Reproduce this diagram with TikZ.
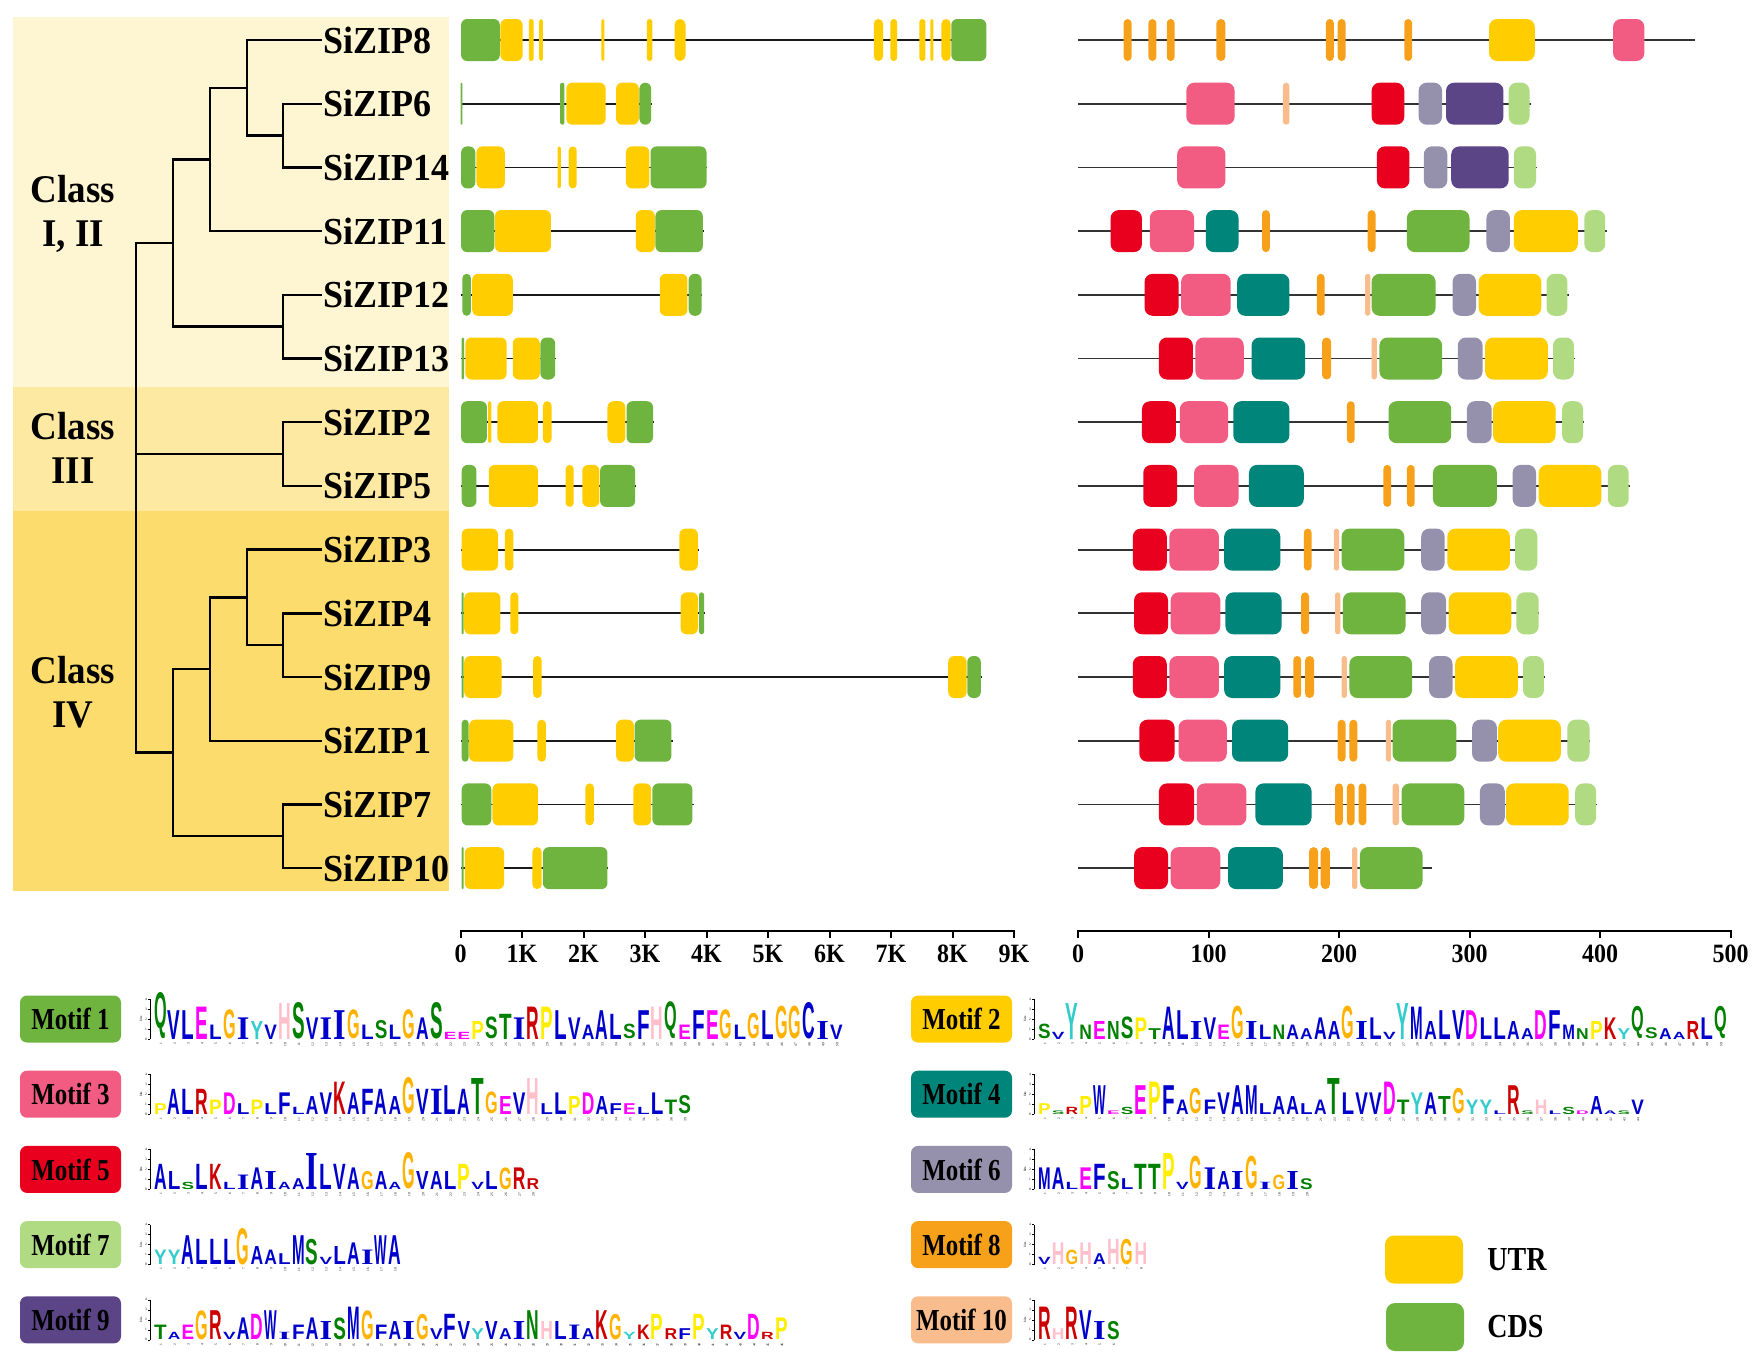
\documentclass[tikz,border=0pt]{standalone}
\usepackage{fontspec}
\setmainfont{Liberation Serif}
\newfontfamily\logofont{Liberation Sans}
\usepackage{graphicx}
\usepackage{xcolor}
\usetikzlibrary{positioning}

% class bands
\definecolor{bandA}{HTML}{FEF6D2}
\definecolor{bandB}{HTML}{FDE9A2}
\definecolor{bandC}{HTML}{FDDC6E}
% gene parts
\definecolor{utr}{HTML}{FFCD00}
\definecolor{cds}{HTML}{6EB43F}
\colorlet{gu}{utr}
\colorlet{gc}{cds}
% motifs
\definecolor{motif1}{HTML}{6EB43F}
\definecolor{motif2}{HTML}{FFCD00}
\definecolor{motif3}{HTML}{F25B82}
\definecolor{motif4}{HTML}{00857A}
\definecolor{motif5}{HTML}{E8001E}
\definecolor{motif6}{HTML}{9591AD}
\definecolor{motif7}{HTML}{B1DB83}
\definecolor{motif8}{HTML}{F7A11A}
\definecolor{motif9}{HTML}{5C4587}
\definecolor{motif10}{HTML}{F9BC8C}
% logo letters
\definecolor{lgblue}{HTML}{0000CC}
\definecolor{lggreen}{HTML}{008000}
\definecolor{lgmag}{HTML}{FF00FF}
\definecolor{lgred}{HTML}{CC0000}
\definecolor{lgpink}{HTML}{FFBFCB}
\definecolor{lgorange}{HTML}{FFB300}
\definecolor{lgyellow}{HTML}{FFEE00}
\definecolor{lgcyan}{HTML}{33CCCC}
\colorlet{aaA}{lgblue}\colorlet{aaC}{lgblue}\colorlet{aaF}{lgblue}
\colorlet{aaI}{lgblue}\colorlet{aaL}{lgblue}\colorlet{aaV}{lgblue}
\colorlet{aaW}{lgblue}\colorlet{aaM}{lgblue}
\colorlet{aaN}{lggreen}\colorlet{aaQ}{lggreen}\colorlet{aaS}{lggreen}\colorlet{aaT}{lggreen}
\colorlet{aaD}{lgmag}\colorlet{aaE}{lgmag}
\colorlet{aaK}{lgred}\colorlet{aaR}{lgred}
\colorlet{aaH}{lgpink}\colorlet{aaG}{lgorange}\colorlet{aaP}{lgyellow}\colorlet{aaY}{lgcyan}
% serifed I as in the logos
\newcommand\glyphI{{\rmfamily\bfseries I}}
\newcommand\aaglyph[1]{\ifcsname glyph#1\endcsname\csname glyph#1\endcsname\else#1\fi}
% tall bold label text
\newcommand\tall[2]{\scalebox{1}[#1]{#2}}

% exon-intron row: y, length (kb), start/end/kind
\newcommand\gene[3]{%
  \draw[intron] (0,#1) -- (#2,#1);
  \foreach \xa/\xb/\kind in {#3}{%
    \pgfmathsetmacro\rr{min(6,(\xb-\xa)*30.75)}%
    \fill[g\kind, rounded corners=\rr pt] (\xa,#1-21) rectangle (\xb,#1+21);}%
}
% motif row: y, length (aa), start/end/motif
\newcommand\prot[3]{%
  \draw[pline] (0,#1) -- (#2,#1);
  \foreach \xa/\xb/\mot in {#3}{%
    \pgfmathsetmacro\rr{min(8,(\xb-\xa)*0.6525)}%
    \fill[motif\mot, rounded corners=\rr pt] (\xa,#1-21) rectangle (\xb,#1+21);}%
}
% sequence logo: name, left x, baseline y, letter/height
\newcommand\seqlogo[4]{%
  \draw[logoaxis] (#2-4,#3) -- (#2-4,#3-40);
  \foreach \bt in {0,...,4}{%
    \draw[logoaxis] (#2-4,#3-10*\bt) -- (#2-6,#3-10*\bt);
    \node[logotick] (#1-b\bt) at (#2-8,#3-10*\bt) {\bt};}%
  \node[logotick, rotate=90] (#1-bits) at (#2-13,#3-20) {bits};
  \foreach \aaL/\aaH [count=\aaK] in {#4}{%
    \pgfmathsetmacro\lh{3.6*\aaH}%
    \node[letter] (#1-\aaK) at ({#2+13.8*(\aaK-1)},#3)
      {\resizebox{12.6pt}{\lh pt}{\textcolor{aa\aaL}{\aaglyph{\aaL}}}};
    \node[posnum] (#1-n\aaK) at ({#2+13.8*(\aaK-0.5)},#3+3) {\aaK};}%
}

\begin{document}
\begin{tikzpicture}[x=1pt, y=-1pt,
  leaf/.style={anchor=west, inner sep=1pt, font=\fontsize{36}{38}\selectfont\bfseries},
  classlbl/.style={align=center, font=\fontsize{37}{44}\selectfont\bfseries},
  branch/.style={line width=2.4pt, black},
  intron/.style={line width=1.8pt, black!90},
  pline/.style={line width=1.8pt, black!80},
  axis/.style={line width=2pt, black},
  ticklbl/.style={font=\fontsize{24}{26}\selectfont\bfseries, inner sep=0pt},
  motiflbl/.style={rounded corners=7pt, minimum width=101pt, minimum height=47pt,
    inner sep=0pt, font=\fontsize{25}{27}\selectfont\bfseries},
  keybox/.style={rounded corners=9pt, minimum width=78pt, minimum height=48pt, inner sep=0pt},
  keylbl/.style={font=\fontsize{28}{30}\selectfont\bfseries, inner sep=2pt},
  letter/.style={anchor=south west, inner sep=0pt, outer sep=0pt, font=\logofont\bfseries},
  posnum/.style={rotate=90, anchor=east, inner sep=0.3pt, font=\fontsize{3.5}{4}\selectfont},
  logotick/.style={inner sep=0.3pt, font=\fontsize{3.5}{4}\selectfont},
  logoaxis/.style={line width=0.3pt, black}]
\useasboundingbox (0,0) rectangle (1761,1361);
\fill[white] (0,0) rectangle (1761,1361);

% class bands
\fill[bandA] (13,17) rectangle (449,387);
\fill[bandB] (13,387) rectangle (449,511);
\fill[bandC] (13,511) rectangle (449,891);
\node[classlbl] (clsI) at (73,214) {\tall{1.06}{Class}\\\tall{1.06}{I, II}};
\node[classlbl] (clsIII) at (73,448) {\tall{1.06}{Class}\\\tall{1.06}{III}};
\node[classlbl] (clsIV) at (73,692) {\tall{1.06}{Class}\\\tall{1.06}{IV}};

% leaves
\foreach \g [count=\rw from 0] in {SiZIP8,SiZIP6,SiZIP14,SiZIP11,SiZIP12,SiZIP13,SiZIP2,
  SiZIP5,SiZIP3,SiZIP4,SiZIP9,SiZIP1,SiZIP7,SiZIP10}
  \node[leaf] (\g) at (322,{40+63.7*\rw}) {\tall{1.06}{\g}};

% inner nodes
\coordinate (c614) at (283,135.55);
\coordinate (c8) at (247,87.8);
\coordinate (c11) at (210,159.45);
\coordinate (c1213) at (283,326.65);
\coordinate (cI) at (173,243.05);
\coordinate (c25) at (283,454.05);
\coordinate (c49) at (283,645.15);
\coordinate (c3) at (247,597.4);
\coordinate (c1) at (210,669.05);
\coordinate (c710) at (283,836.25);
\coordinate (cIV) at (173,752.65);
\coordinate (root) at (136,454.05);

% branches
\draw[branch] (c614) |- (SiZIP6.west);
\draw[branch] (c614) |- (SiZIP14.west);
\draw[branch] (c8) |- (SiZIP8.west);
\draw[branch] (c8) |- (c614);
\draw[branch] (c11) |- (c8);
\draw[branch] (c11) |- (SiZIP11.west);
\draw[branch] (c1213) |- (SiZIP12.west);
\draw[branch] (c1213) |- (SiZIP13.west);
\draw[branch] (cI) |- (c11);
\draw[branch] (cI) |- (c1213);
\draw[branch] (c25) |- (SiZIP2.west);
\draw[branch] (c25) |- (SiZIP5.west);
\draw[branch] (c49) |- (SiZIP4.west);
\draw[branch] (c49) |- (SiZIP9.west);
\draw[branch] (c3) |- (SiZIP3.west);
\draw[branch] (c3) |- (c49);
\draw[branch] (c1) |- (c3);
\draw[branch] (c1) |- (SiZIP1.west);
\draw[branch] (c710) |- (SiZIP7.west);
\draw[branch] (c710) |- (SiZIP10.west);
\draw[branch] (cIV) |- (c1);
\draw[branch] (cIV) |- (c710);
\draw[branch] (root) |- (cI);
\draw[branch] (root) |- (cIV);
\draw[branch] (root) -- (c25);

% gene structures (kb)
\begin{scope}[shift={(460.5,0)}, x=61.5pt]
\gene{40}{8.55}{0.01/0.64/c,0.65/1.01/u,1.11/1.19/u,1.28/1.34/u,2.29/2.34/u,3.03/3.12/u,
  3.48/3.66/u,6.72/6.87/u,6.99/7.10/u,7.46/7.56/u,7.64/7.69/u,7.82/7.97/u,7.98/8.55/c}
\gene{103.7}{3.11}{0.00/0.03/c,1.62/1.69/c,1.72/2.36/u,2.53/2.90/u,2.91/3.10/c}
\gene{167.4}{4.00}{0.01/0.24/c,0.26/0.72/u,1.58/1.63/u,1.76/1.89/u,2.69/3.07/u,3.09/4.00/c}
\gene{231.1}{3.96}{0.01/0.55/c,0.56/1.47/u,2.85/3.16/u,3.17/3.94/c}
\gene{294.8}{3.93}{0.03/0.17/c,0.19/0.85/u,3.24/3.69/u,3.71/3.92/c}
\gene{358.5}{1.55}{0.02/0.06/c,0.08/0.75/u,0.85/1.29/u,1.30/1.54/c}
\gene{422.2}{3.15}{0.01/0.43/c,0.45/0.50/u,0.60/1.26/u,1.34/1.48/u,2.39/2.68/u,2.70/3.13/c}
\gene{485.9}{2.86}{0.02/0.26/c,0.46/1.26/u,1.71/1.84/u,1.98/2.26/u,2.27/2.84/c}
\gene{549.6}{3.88}{0.02/0.61/u,0.72/0.86/u,3.56/3.86/u}
\gene{613.3}{3.98}{0.02/0.05/c,0.06/0.65/u,0.81/0.94/u,3.58/3.86/u,3.88/3.96/c}
\gene{677}{8.48}{0.02/0.05/c,0.06/0.67/u,1.18/1.32/u,7.93/8.23/u,8.24/8.46/c}
\gene{740.7}{3.45}{0.02/0.13/c,0.14/0.86/u,1.25/1.39/u,2.53/2.82/u,2.83/3.43/c}
\gene{804.4}{3.79}{0.02/0.50/c,0.52/1.26/u,2.03/2.17/u,2.81/3.10/u,3.12/3.77/c}
\gene{868.1}{2.40}{0.02/0.05/c,0.07/0.71/u,1.17/1.32/u,1.34/2.39/c}
% kb axis
\draw[axis] (0,931) -- (9,931);
\foreach \kb/\txt in {0/0,1/1K,2/2K,3/3K,4/4K,5/5K,6/6K,7/7K,8/8K,9/9K}{
  \draw[axis] (\kb,930) -- (\kb,938);
  \node[ticklbl] (kb\kb) at (\kb,954) {\tall{1.1}{\txt}};}
\end{scope}

% conserved motifs (aa)
\begin{scope}[shift={(1078,0)}, x=1.305pt]
\prot{40}{473}{35/41/8,54/60/8,68/74/8,106/113/8,190/196/8,199/205/8,250/256/8,315/350/2,410/434/3}
\prot{103.7}{347}{83/120/3,157/162/10,225/250/5,261/279/6,282/326/9,330/346/7}
\prot{167.4}{352}{76/113/3,229/254/5,265/283/6,286/330/9,334/351/7}
\prot{231.1}{405}{25/49/5,55/89/3,98/123/4,141/147/8,222/228/8,252/300/1,313/331/6,334/383/2,388/404/7}
\prot{294.8}{376}{51/77/5,79/117/3,122/162/4,183/189/8,220/224/10,225/274/1,287/305/6,307/355/2,359/375/7}
\prot{358.5}{381}{62/88/5,90/127/3,133/174/4,187/194/8,225/229/10,231/279/1,291/310/6,312/360/2,364/380/7}
\prot{422.2}{388}{49/75/5,78/115/3,119/162/4,206/212/8,238/286/1,298/317/6,318/366/2,371/387/7}
\prot{485.9}{423}{50/76/5,89/123/3,131/173/4,234/240/8,252/258/8,272/321/1,333/351/6,353/401/2,406/422/7}
\prot{549.6}{352}{42/68/5,70/108/3,112/155/4,173/179/8,196/200/10,202/250/1,263/281/6,283/331/2,335/352/7}
\prot{613.3}{353}{43/69/5,71/109/3,113/156/4,171/177/8,197/201/10,203/251/1,263/282/6,284/332/2,336/353/7}
\prot{677}{358}{42/68/5,70/108/3,112/155/4,165/171/8,174/181/8,202/206/10,208/256/1,269/287/6,289/337/2,341/357/7}
\prot{740.7}{392}{47/74/5,77/114/3,118/161/4,199/205/8,208/214/8,236/240/10,241/290/1,302/321/6,322/370/2,375/392/7}
\prot{804.4}{398}{62/89/5,91/129/3,136/179/4,197/203/8,206/212/8,215/221/8,241/246/10,248/296/1,308/327/6,328/376/2,381/397/7}
\prot{868.1}{271}{43/69/5,71/109/3,115/157/4,177/184/8,186/193/8,210/214/10,216/264/1}
% aa axis
\draw[axis] (0,931) -- (500,931);
\foreach \aa in {0,100,...,500}{
  \draw[axis] (\aa,930) -- (\aa,938);
  \node[ticklbl] (aa\aa) at (\aa,954) {\tall{1.1}{\aa}};}
\end{scope}

% motif keys
\foreach \mk/\col/\rw in {1/70.5/0,3/70.5/1,5/70.5/2,7/70.5/3,9/70.5/4,
  2/961.5/0,4/961.5/1,6/961.5/2,8/961.5/3,10/961.5/4}
  \node[motiflbl, fill=motif\mk] (motif\mk) at (\col,{1019+75.2*\rw}) {\tall{1.22}{Motif \mk}};

% logos
\seqlogo{lg1}{154}{1039}{Q/10,V/8,L/8,E/9,L/4,G/8,I/6,Y/5,V/4,H/10,S/10,V/6,I/6,I/8,G/8,L/4,S/5,L/4,G/8,A/6,
  S/10,E/2,E/2,P/5,S/6,T/7,I/6,R/9,P/9,L/8,V/6,A/4,A/8,L/7,S/4,F/8,H/9,Q/8,E/4,F/8,
  E/8,G/8,L/4,G/7,L/8,G/9,G/9,C/10,I/5,V/4}
\seqlogo{lg3}{154}{1114.2}{P/3,A/7,L/7,R/7,P/4,D/6,L/3,P/4,L/3,F/6,L/2,A/5,V/6,K/9,A/6,F/7,A/7,A/5,G/10,V/7,
  I/7,L/8,A/7,T/10,G/6,E/5,V/6,H/10,L/3,L/6,P/5,D/6,A/5,F/3,E/3,L/2,L/6,T/4,S/5}
\seqlogo{lg5}{154}{1189.4}{A/7,L/5,S/2,L/7,K/7,L/2,I/4,A/6,I/5,A/2,A/3,I/10,L/7,V/7,A/6,G/5,A/5,A/2,G/10,V/5,
  A/5,L/5,P/7,V/2,L/5,G/6,R/6,R/3}
\seqlogo{lg7}{154}{1264.6}{Y/4,Y/4,A/8,L/7,L/7,L/7,G/10,A/5,A/4,L/3,M/8,S/7,V/2,L/5,A/6,I/4,W/8,A/8}
\seqlogo{lg9}{154}{1339.8}{T/4,A/2,E/4,G/8,R/8,V/2,A/6,D/7,W/8,I/2,F/4,A/6,I/5,S/6,M/9,G/8,F/4,A/5,I/5,G/7,
  V/3,F/7,V/5,Y/3,V/5,A/3,I/5,N/8,H/5,L/5,I/4,A/3,K/8,G/7,Y/2,K/4,P/7,R/3,F/3,P/7,
  Y/3,R/4,V/2,D/7,R/2,P/6}
\seqlogo{lg2}{1038}{1039}{S/4,V/2,Y/10,N/4,E/5,N/5,S/6,P/6,T/3,A/9,L/8,I/5,V/6,E/4,G/9,I/5,L/4,N/4,A/4,A/3,
  A/6,A/5,G/9,I/5,L/6,V/2,Y/10,M/9,A/5,L/8,V/8,D/8,L/6,L/6,A/5,A/3,D/8,F/8,M/4,N/3,
  P/5,K/6,Y/3,Q/7,S/3,A/3,A/2,R/5,L/6,Q/7}
\seqlogo{lg4}{1038}{1114.2}{P/3,S/1,R/2,P/5,W/8,E/1,S/2,E/8,P/9,F/8,A/4,G/7,F/4,V/6,A/8,M/8,L/3,A/5,A/5,L/3,
  A/4,T/10,L/6,V/6,V/6,D/9,T/4,Y/6,A/6,T/5,G/7,Y/4,Y/4,L/1,R/8,S/1,H/4,L/1,S/2,D/1,
  A/5,A/1,S/1,V/4}
\seqlogo{lg6}{1038}{1189.4}{M/6,A/6,L/2,E/6,F/7,S/5,L/3,T/7,T/7,P/10,V/2,G/9,I/6,A/5,I/5,G/9,I/2,G/4,I/5,S/3}
\seqlogo{lg8}{1038}{1264.6}{V/2,H/6,G/4,H/6,A/3,H/7,G/7,H/6}
\seqlogo{lg10}{1038}{1339.8}{R/9,H/3,R/9,V/8,I/5,S/5}

% UTR / CDS key
\node[keybox, fill=utr] (utrkey) at (1424,1259.5) {};
\node[keylbl, right=22pt of utrkey] (utrlbl) {\tall{1.2}{UTR}};
\node[keybox, fill=cds] (cdskey) at (1425,1327) {};
\node[keylbl, right=21pt of cdskey] (cdslbl) {\tall{1.2}{CDS}};
\end{tikzpicture}
\end{document}
